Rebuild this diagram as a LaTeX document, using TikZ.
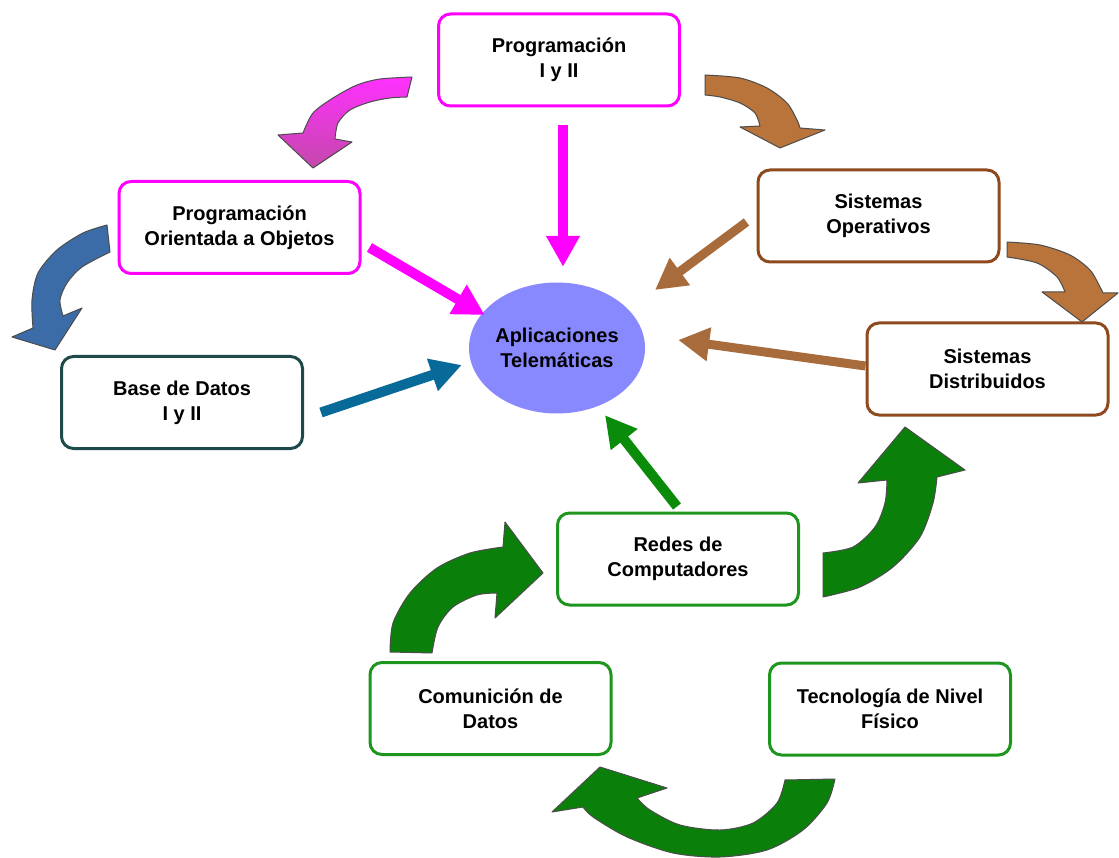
\documentclass[tikz,border=0pt]{standalone}
\usepackage{fontspec}
\setmainfont{Liberation Sans}
\usetikzlibrary{arrows.meta,shapes.geometric,calc}

\definecolor{magbox}{HTML}{FF00FF}
\definecolor{tealbox}{HTML}{1F4A4A}
\definecolor{brownbox}{HTML}{8E4A1E}
\definecolor{greenbox}{HTML}{1E961E}
\definecolor{ellfill}{HTML}{8888FF}
\definecolor{pinktop}{HTML}{FF30FF}
\definecolor{pinkbot}{HTML}{C448AA}
\definecolor{bluebend}{HTML}{3B6CA8}
\definecolor{brownbend}{HTML}{B8743A}
\definecolor{greenbend}{HTML}{0A800A}
\definecolor{blueflow}{HTML}{086A98}
\definecolor{brownflow}{HTML}{A86C3C}
\definecolor{greenflow}{HTML}{0A8C0A}

\begin{document}
\begin{tikzpicture}[x=1pt,y=-1pt,
  box/.style={draw, rounded corners=12pt, line width=3pt, minimum width=241pt,
    minimum height=92pt, align=center, fill=white, inner sep=0pt,
    font=\bfseries\fontsize{20}{25}\selectfont},
  flow/.style={line width=10pt, -{Triangle[length=31pt,width=32pt]}},
  curvearrow/.style={draw=black!70, line width=1pt, line join=round}
]
\fill[white] (0,0) rectangle (1119,858);
\useasboundingbox (0,0) rectangle (1119,858);

% central topic
\node[ellipse, fill=ellfill, minimum width=176pt, minimum height=131pt, inner sep=0pt,
  align=center, font=\bfseries\fontsize{20}{25}\selectfont] (apl) at (557,348)
  {Aplicaciones\\Telemáticas};

% subject boxes
\node[box, draw=magbox] (prog) at (559,60) {Programación\\I y II};
\node[box, draw=magbox] (poo) at (239.5,227.5) {Programación\\Orientada a Objetos};
\node[box, draw=tealbox] (bd) at (182,402.5) {Base de Datos\\I y II};
\node[box, draw=brownbox] (so) at (878.5,216) {Sistemas\\Operativos};
\node[box, draw=brownbox] (sd) at (987.5,369) {Sistemas\\Distribuidos};
\node[box, draw=greenbox] (redes) at (678,559) {Redes de\\Computadores};
\node[box, draw=greenbox] (com) at (490.5,708.5) {Comunición de\\Datos};
\node[box, draw=greenbox] (tec) at (890,709) {Tecnología de Nivel\\Físico};

% straight arrows into the central topic
\draw[flow, magbox] ($(prog.south)+(4,18)$) -- ($(apl.north)+(6,-15.5)$);
\draw[flow, magbox] ($(poo.east)+(8,20)$) -- ($(apl.west)+(16,-33)$);
\draw[flow, blueflow] ($(bd.east)+(17,10)$) -- ($(apl.west)+(-7,17)$);
\draw[flow, brownflow, line width=9pt] ($(so.west)+(-10,6)$) -- ($(apl.center)+(98,-58)$);
\draw[flow, brownflow, line width=9pt] ($(sd.west)+(0,-3)$) -- ($(apl.east)+(33,-8)$);
\draw[flow, greenflow] ($(redes.north)+(-1,-5)$) -- ($(apl.south)+(48,1.5)$);

% curved block arrows between subjects
\path[curvearrow, top color=pinktop, bottom color=pinkbot]
  plot[smooth] coordinates {(412,77) (380,79) (357,85) (333,98) (313,113) (303,133)}
  -- (278,135) -- (313,168) -- (352,142) -- (335,139)
  -- plot[smooth] coordinates {(335,139) (338,123) (350,110) (370,102) (390,98) (407,97)}
  -- cycle;

\path[curvearrow, fill=bluebend]
  plot[smooth] coordinates {(107,225) (83,233) (57,250) (38,273) (32,300) (33,328)}
  -- (12,337) -- (55,350) -- (82,308) -- (63,316)
  -- plot[smooth] coordinates {(63,316) (60,300) (67,283) (82,267) (110,252)}
  -- cycle;

\path[curvearrow, fill=brownbend]
  plot[smooth] coordinates {(705,75) (740,78) (767,88) (787,103) (797,120) (800,128)}
  -- (825,130) -- (780,148) -- (740,127) -- (760,126)
  -- plot[smooth] coordinates {(760,126) (755,113) (740,103) (720,97) (705,95)}
  -- cycle;

\path[curvearrow, fill=brownbend]
  plot[smooth] coordinates {(1007,242) (1040,245) (1070,255) (1090,270) (1100,287) (1103,293)}
  -- (1118,293) -- (1082,322) -- (1042,292) -- (1065,292)
  -- plot[smooth] coordinates {(1065,292) (1057,277) (1037,263) (1007,257)}
  -- cycle;

\path[curvearrow, fill=greenbend]
  plot[smooth] coordinates {(823,597) (860,587) (893,567) (920,537) (933,503) (937,477)}
  -- (965,470) -- (905,427) -- (858,483) -- (887,480)
  -- plot[smooth] coordinates {(887,480) (885,503) (875,527) (853,547) (823,553)}
  -- cycle;

\path[curvearrow, fill=greenbend]
  plot[smooth] coordinates {(390,652) (393,623) (410,593) (437,568) (470,553) (503,547)}
  -- (505,522) -- (543,573) -- (495,618) -- (497,593)
  -- plot[smooth] coordinates {(497,593) (477,595) (453,607) (438,627) (432,653)}
  -- cycle;

\path[curvearrow, fill=greenbend]
  plot[smooth] coordinates {(835,779) (827,803) (803,830) (767,850) (720,857) (673,853) (627,837) (593,817) (583,807)}
  -- (552,812) -- (600,767) -- (667,788) -- (637,798)
  -- plot[smooth] coordinates {(637,798) (650,810) (680,825) (720,830) (753,823) (777,803) (785,780)}
  -- cycle;
\end{tikzpicture}
\end{document}
